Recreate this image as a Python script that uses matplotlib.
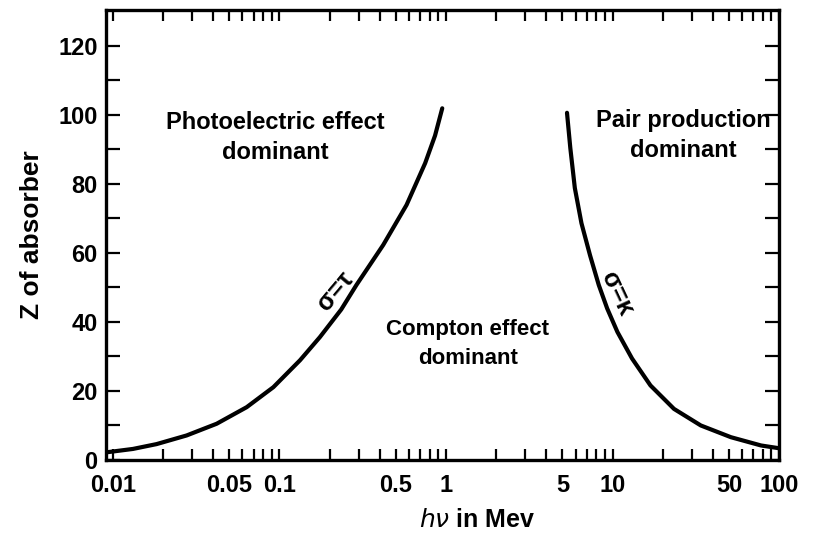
import matplotlib
matplotlib.use("Agg")
import matplotlib.pyplot as plt
from matplotlib.ticker import FixedLocator, NullFormatter, FixedFormatter

# sigma = tau boundary (photoelectric / Compton)
photo_E = [0.0091, 0.0132, 0.0183, 0.0277, 0.042, 0.0636, 0.092, 0.133, 0.175, 0.235,
           0.29, 0.42, 0.58, 0.75, 0.86, 0.95]
photo_Z = [2.2, 3.2, 4.6, 7.1, 10.5, 15.3, 21.1, 28.9, 35.6, 43.6,
           50.7, 62.3, 73.9, 86.0, 94.0, 101.9]

# sigma = kappa boundary (Compton / pair production)
pair_E = [5.33, 5.58, 5.94, 6.51, 7.33, 8.27, 9.29, 10.7, 13.1, 16.9,
          23.4, 33.9, 51.4, 78.0, 100.0]
pair_Z = [100.6, 90.4, 78.8, 68.6, 59.3, 50.7, 43.9, 37.1, 29.4, 21.6,
          14.8, 10.0, 6.6, 4.2, 3.4]

x_major = [0.01, 0.05, 0.1, 0.5, 1, 5, 10, 50, 100]
x_labels = ["0.01", "0.05", "0.1", "0.5", "1", "5", "10", "50", "100"]
x_minor = [m * d for d in [0.01, 0.1, 1, 10] for m in [2, 3, 4, 6, 7, 8, 9]]
y_major = [0, 20, 40, 60, 80, 100, 120]
y_minor = [10, 30, 50, 70, 90, 110]

plt.rcParams['font.family'] = ['Liberation Sans', 'DejaVu Sans']

fig = plt.figure(figsize=(8.35, 5.33), dpi=100)
ax = fig.add_axes([0.127, 0.137, 0.806, 0.845])

ax.plot(photo_E, photo_Z, color='black', linewidth=3, solid_capstyle='round')
ax.plot(pair_E, pair_Z, color='black', linewidth=3, solid_capstyle='round')

ax.set_xscale('log')
ax.set_xlim(0.0091, 100)
ax.set_ylim(0, 130.5)

ax.xaxis.set_major_locator(FixedLocator(x_major))
ax.xaxis.set_major_formatter(FixedFormatter(x_labels))
ax.xaxis.set_minor_locator(FixedLocator(x_minor))
ax.xaxis.set_minor_formatter(NullFormatter())
ax.yaxis.set_major_locator(FixedLocator(y_major))
ax.yaxis.set_minor_locator(FixedLocator(y_minor))

ax.tick_params(axis='x', which='both', direction='in', top=True, bottom=True,
               length=8, width=1.6, labelsize=17, pad=10)
ax.tick_params(axis='y', which='both', direction='in', left=True, right=True,
               length=10, width=1.6, labelsize=17, pad=6)
for lab in ax.get_xticklabels() + ax.get_yticklabels():
    lab.set_fontweight('bold')

for s in ax.spines.values():
    s.set_linewidth(2.4)

ax.set_ylabel('Z of absorber', fontsize=19, fontweight='bold', labelpad=10)
ax.set_xlabel(r'$h\nu$ in Mev', fontsize=18, fontweight='bold')
ax.xaxis.set_label_coords(0.551, -0.133)
ax.xaxis.label.set_va('center')

txt = dict(fontsize=17, fontweight='bold', ha='center', va='center', linespacing=1.4)
ax.text(0.094, 93.5, 'Photoelectric effect\ndominant', **txt)
ax.text(26.7, 94, 'Pair production\ndominant', **txt)
ax.text(1.35, 33.5, 'Compton effect\ndominant', fontsize=16, fontweight='bold',
        ha='center', va='center', linespacing=1.5)

ax.text(0.218, 48.8, 'σ=τ', fontsize=18, fontweight='bold', rotation=50,
        ha='center', va='center')
ax.text(10.6, 48.3, 'σ=κ', fontsize=18, fontweight='bold', rotation=-65,
        ha='center', va='center')

fig.savefig('out.png', dpi=100)
